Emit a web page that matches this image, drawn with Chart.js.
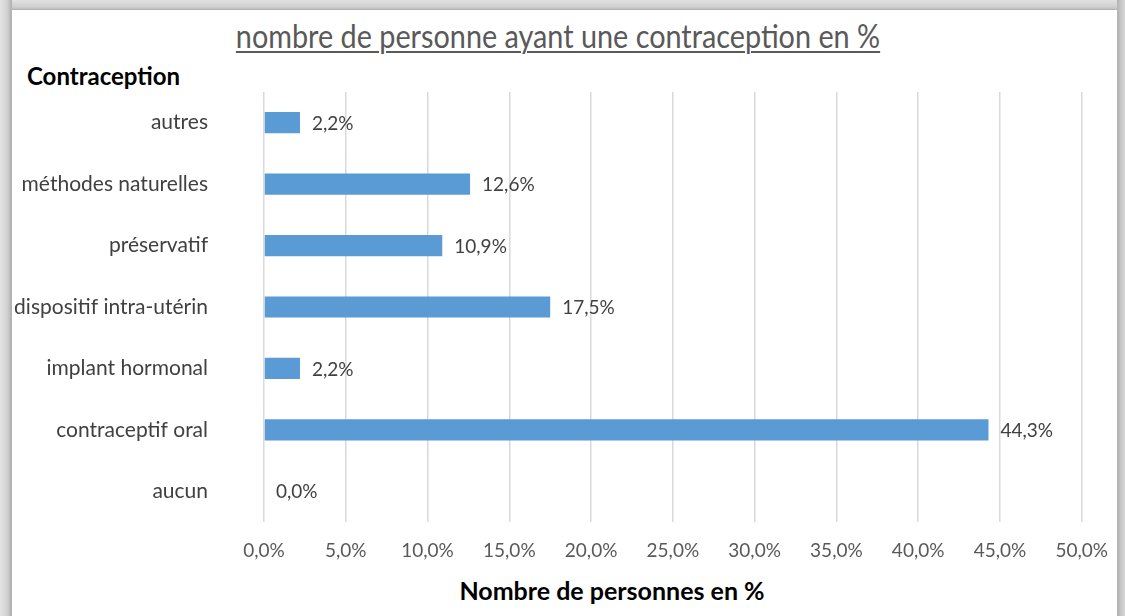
<!DOCTYPE html>
<html>
<head>
<meta charset="utf-8">
<script src="https://cdn.jsdelivr.net/npm/chart.js@4/dist/chart.umd.min.js"></script>
<style>
  html, body { margin: 0; padding: 0; }
  body { width: 1125px; height: 616px; position: relative; overflow: hidden;
         background: #d6d6d6; font-family: Lato, "Open Sans", sans-serif; }
  #frame { position: absolute; left: 12px; top: 10px; width: 1105px; height: 620px; background: #fff;
           box-shadow: -2px -1px 0 #b4b4b4, 2px 0 0 #b4b4b4; }
  #topband { position: absolute; left: 0; top: 0; width: 1125px; height: 10px;
             background: linear-gradient(to bottom, #e2e2e2, #cfcfcf 70%, #b8b8b8); }
  #leftband { position: absolute; left: 0; top: 0; width: 12px; height: 616px;
              background: linear-gradient(to right, #e4e4e4, #d0d0d0 60%, #b0b0b0); }
  #rightband { position: absolute; left: 1117px; top: 0; width: 8px; height: 616px;
              background: linear-gradient(to right, #b4b4b4, #d8d8d8); }
  #title { position: absolute; left: 558px; top: 17px; transform: translateX(-50%) scaleX(0.9);
           white-space: nowrap; font-size: 32px; line-height: 38px; color: #595959;
           text-decoration: underline; text-underline-offset: 3px; text-decoration-thickness: 1.5px; }
  #ytitle { position: absolute; left: 27px; top: 61px; font-size: 24px; font-weight: bold; color: #000; }
  #xtitle { position: absolute; left: 612px; transform: translateX(-50%); top: 575px; font-size: 25px;
            font-weight: bold; color: #000; white-space: nowrap; }
  #wrap { position: absolute; left: 0; top: 0; width: 1125px; height: 616px; }
</style>
</head>
<body>
<div id="topband"></div>
<div id="leftband"></div>
<div id="rightband"></div>
<div id="frame"></div>
<div id="title">nombre de personne ayant une contraception en %</div>
<div id="ytitle">Contraception</div>
<div id="xtitle">Nombre de personnes en %</div>
<div id="wrap"><canvas id="c" width="1125" height="616"></canvas></div>
<script>
const categories = ["autres", "méthodes naturelles", "préservatif", "dispositif intra-utérin",
                    "implant hormonal", "contraceptif oral", "aucun"];
const values = [2.2, 12.6, 10.9, 17.5, 2.2, 44.3, 0.0];
const xTickMax = 50;
const xTickStep = 5;

const FONT = 'Lato, "Open Sans", sans-serif';
const fmt = v => v.toFixed(1).replace('.', ',') + '%';

const valueLabels = {
  id: 'valueLabels',
  afterDatasetsDraw(chart) {
    const ctx = chart.ctx;
    const meta = chart.getDatasetMeta(0);
    ctx.save();
    ctx.font = '19px ' + FONT;
    ctx.fillStyle = '#404040';
    ctx.textAlign = 'left';
    ctx.textBaseline = 'middle';
    meta.data.forEach((bar, i) => {
      ctx.fillText(fmt(values[i]), bar.x + 12, bar.y + 1);
    });
    ctx.restore();
  }
};

new Chart(document.getElementById('c'), {
  type: 'bar',
  data: {
    labels: categories,
    datasets: [{
      data: values,
      backgroundColor: '#5b9bd5',
      borderWidth: 0,
      barPercentage: 0.345,
      categoryPercentage: 1.0
    }]
  },
  options: {
    indexAxis: 'y',
    responsive: false,
    animation: false,
    devicePixelRatio: 1,
    layout: { padding: { top: 92, right: 43, bottom: 0, left: 0 } },
    plugins: { legend: { display: false }, tooltip: { enabled: false }, title: { display: false } },
    scales: {
      x: {
        min: 0, max: xTickMax,
        ticks: { stepSize: xTickStep, callback: v => fmt(v), color: '#595959',
                 font: { family: FONT, size: 19 }, padding: 17 },
        grid: { color: '#d9d9d9', lineWidth: 1.5, drawTicks: false },
        border: { display: false },
        afterFit: s => { s.height = 94; }
      },
      y: {
        ticks: { color: '#404040', font: { family: FONT, size: 21 }, padding: 56 },
        grid: { display: false, drawTicks: false },
        border: { display: false },
        afterFit: s => { s.width = 264; }
      }
    }
  },
  plugins: [valueLabels]
});
</script>
</body>
</html>
